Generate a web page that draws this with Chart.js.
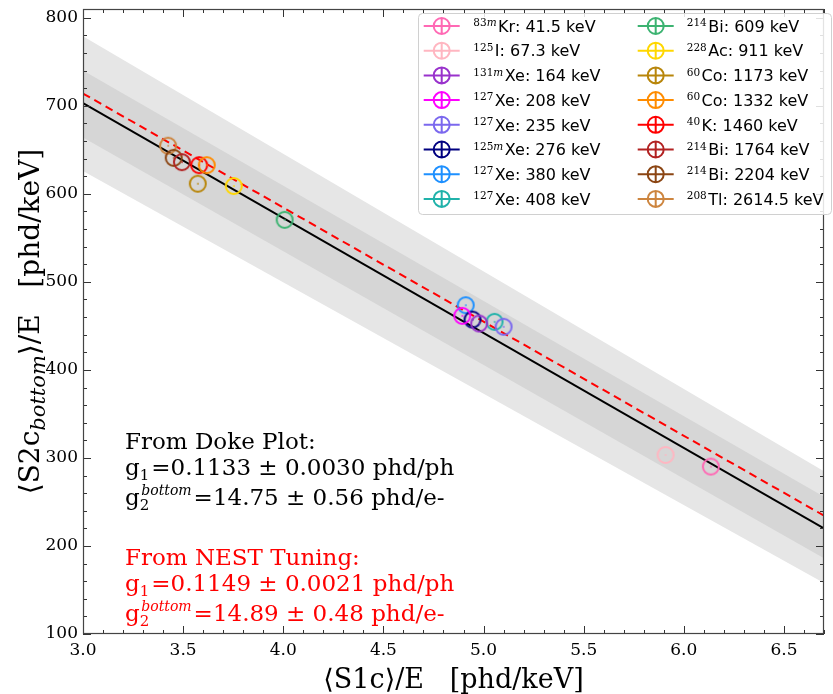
<!DOCTYPE html>
<html><head><meta charset="utf-8">
<script src="https://cdn.jsdelivr.net/npm/chart.js@4/dist/chart.umd.min.js"></script>
<style>html,body{margin:0;background:#fff}canvas{display:block}</style>
</head><body>
<canvas id="doke" width="833" height="694"></canvas>
<script>
/* ===== 資料 ===== */
const LINE_X=[3.0,6.7];
const DOKE_FIT=[703,220], NEST_FIT=[714,234.5];
const BAND1_HI=[740,256], BAND1_LO=[664,186];
const BAND2_HI=[779,285], BAND2_LO=[626,158];
const X_TICKS=[3.0,3.5,4.0,4.5,5.0,5.5,6.0,6.5];
const Y_TICKS=[100,200,300,400,500,600,700,800];

const MASS=['83','125','131','127','127','125','127','127','214','228','60','60','40','214','214','208'];
const META=[1,0,1,0,0,1,0,0,0,0,0,0,0,0,0,0];
const ISO=['Kr','I','Xe','Xe','Xe','Xe','Xe','Xe','Bi','Ac','Co','Co','K','Bi','Bi','Tl'];
const KEV=['41.5','67.3','164','208','235','276','380','408','609','911','1173','1332','1460','1764','2204','2614.5'];
const S1E=[6.135,5.909,4.978,4.894,5.100,4.945,4.911,5.055,4.007,3.753,3.573,3.618,3.580,3.494,3.453,3.425];
const S2E=[290.2,303.4,452.7,461.4,449.0,457.2,473.5,454.6,570.5,608.9,611.5,632.6,632.6,636.0,640.9,654.7];
const COLORS=['#ff69b4','#ffb6c1','#9932cc','#ff00ff','#7b68ee','#000080','#1e90ff','#20b2aa',
              '#3cb371','#ffd700','#b8860b','#ff8c00','#ff0000','#b22222','#8b4513','#cd853f'];

const DOKE_TXT=['From Doke Plot:','0.1133 \u00b1 0.0030 phd/ph','14.75 \u00b1 0.56 phd/e-'];
const NEST_TXT=['From NEST Tuning:','0.1149 \u00b1 0.0021 phd/ph','14.89 \u00b1 0.48 phd/e-'];

const SERIF='"DejaVu Serif", serif', SANS='"DejaVu Sans", sans-serif';

/* ---------- helpers ---------- */
const xy=a=>LINE_X.map((x,i)=>({x,y:a[i]}));
function marker(col){
  const c=document.createElement('canvas'); c.width=c.height=22;
  const g=c.getContext('2d'); g.strokeStyle=col; g.lineWidth=2;
  g.beginPath(); g.arc(11,11,8,0,Math.PI*2); g.stroke();
  g.fillStyle=col; g.fillRect(10.5,10,1.2,2);
  return c;
}
function runs(ctx,x,y,parts){ // 依序畫帶上下標的文字
  parts.forEach(p=>{ctx.font=p.f; ctx.fillText(p.t,x,y+(p.dy||0)); x+=ctx.measureText(p.t).width+(p.gap||0);});
  return x;
}
const runW=(ctx,parts)=>parts.reduce((s,p)=>{ctx.font=p.f;return s+ctx.measureText(p.t).width+(p.gap||0);},0);

/* ---------- plugins ---------- */
const frame={id:'frame',afterDatasetsDraw(c){
  const {ctx,chartArea:{left,right,top,bottom},scales:{x,y}}=c;
  ctx.save(); ctx.strokeStyle='#333'; ctx.lineWidth=1; ctx.beginPath();
  for(let i=30;i<=67;i++){const px=Math.round(x.getPixelForValue(i/10))+.5,l=i%5?4:8;
    ctx.moveTo(px,bottom);ctx.lineTo(px,bottom-l);ctx.moveTo(px,top);ctx.lineTo(px,top+l);}
  for(let v=100;v<=810;v+=20){const py=Math.round(y.getPixelForValue(v))+.5,l=v%100?4:8;
    ctx.moveTo(left,py);ctx.lineTo(left+l,py);ctx.moveTo(right,py);ctx.lineTo(right-l,py);}
  ctx.stroke();
  ctx.strokeStyle='#444'; ctx.lineWidth=1.2; ctx.strokeRect(left+.5,top+.5,right-left-1,bottom-top-1);
  ctx.restore();
}};

const texts={id:'texts',afterDraw(c){
  const {ctx,chartArea:{left,right,top,bottom}}=c;
  ctx.save(); ctx.textBaseline='alphabetic'; ctx.textAlign='left';
  const big='23px '+SERIF, sub='15px '+SERIF, sup='italic 14px '+SERIF;
  const block=(lines,col,b0)=>{
    ctx.fillStyle=col;
    runs(ctx,125,b0,[{t:lines[0],f:big}]);
    runs(ctx,125,b0+26,[{t:'g',f:big},{t:'1',f:sub,dy:5,gap:2},{t:'='+lines[1],f:big}]);
    runs(ctx,125,b0+56,[{t:'g',f:big},{t:'2',f:sub,dy:5,gap:-8},{t:'bottom',f:sup,dy:-10,gap:2},{t:'='+lines[2],f:big}]);
  };
  block(DOKE_TXT,'#000',449); block(NEST_TXT,'#ff0000',565);

  /* 軸標題 */
  ctx.fillStyle='#000';
  const xt=[{t:'\u27e8S1c\u27e9/E   [phd/keV]',f:'27px '+SERIF}];
  runs(ctx,(left+right)/2-runW(ctx,xt)/2,688,xt);
  const yt=[{t:'\u27e8S2c',f:'28px '+SERIF},{t:'bottom',f:'italic 21px '+SERIF,dy:6},{t:'\u27e9/E   [phd/keV]',f:'28px '+SERIF}];
  ctx.translate(39,(top+bottom)/2); ctx.rotate(-Math.PI/2);
  runs(ctx,-runW(ctx,yt)/2,0,yt);
  ctx.restore();
}};

const legendBox={id:'legendBox',afterDraw(c){
  const {ctx}=c; ctx.save();
  ctx.beginPath(); ctx.roundRect(418.5,13.5,413,201,4);
  ctx.fillStyle='rgba(255,255,255,.85)'; ctx.fill(); ctx.strokeStyle='#d0d0d0'; ctx.lineWidth=1; ctx.stroke();
  ctx.textBaseline='alphabetic';
  MASS.forEach((m,i)=>{
    const col=i<8?0:1,row=i%8,cx=col?655.7:441.7,cy=26+row*24.7,tx=col?686.7:473.3;
    ctx.strokeStyle=COLORS[i]; ctx.lineWidth=2; ctx.beginPath();
    ctx.moveTo(cx-18,cy);ctx.lineTo(cx+18,cy);ctx.moveTo(cx,cy-8);ctx.lineTo(cx,cy+8);
    ctx.moveTo(cx+8,cy);ctx.arc(cx,cy,8,0,Math.PI*2); ctx.stroke();
    ctx.fillStyle='#000';
    const parts=[{t:m,f:'10.5px '+SERIF,dy:-5.5}];
    if(META[i]) parts.push({t:'m',f:'italic 10.5px '+SERIF,dy:-5.5});
    parts[parts.length-1].gap=1.5;
    parts.push({t:`${ISO[i]}: ${KEV[i]} keV`,f:'16px '+SANS});
    runs(ctx,tx,cy+5.7,parts);
  });
  ctx.restore();
}};

/* ---------- chart ---------- */
const band=(d,col,fill,order)=>({data:xy(d),showLine:true,borderWidth:0,pointRadius:0,
  backgroundColor:col,fill,order});
const fitLine=(d,col,dash,order)=>({data:xy(d),showLine:true,borderColor:col,borderWidth:2,
  borderDash:dash,pointRadius:0,fill:false,order});

new Chart(document.getElementById('doke'),{
  type:'scatter',
  data:{datasets:[
    band(BAND2_HI,'#e6e6e6','+1',9), band(BAND2_LO,'#e6e6e6',false,9),
    band(BAND1_HI,'#d6d6d6','+1',8), band(BAND1_LO,'#d6d6d6',false,8),
    fitLine(DOKE_FIT,'#000',[],5), fitLine(NEST_FIT,'#ff0000',[8,5],4),
    ...S1E.map((x,i)=>({label:`${MASS[i]}${ISO[i]}`,data:[{x,y:S2E[i]}],
      pointStyle:marker(COLORS[i]),pointRadius:8,order:0}))
  ]},
  options:{
    responsive:false,animation:false,
    layout:{padding:{left:0,top:3,right:1,bottom:0}},
    plugins:{legend:{display:false},tooltip:{enabled:false}},
    scales:{
      x:{type:'linear',min:3,max:6.7,
         grid:{display:false,drawTicks:false},border:{display:false},
         ticks:{padding:6,color:'#000',font:{family:SERIF,size:17},maxRotation:0,callback:v=>v.toFixed(1)},
         afterBuildTicks:s=>{s.ticks=X_TICKS.map(value=>({value}));},
         afterFit:s=>{s.height=60;s.paddingLeft=0;s.paddingRight=0;}},
      y:{type:'linear',min:100,max:810,
         grid:{display:false,drawTicks:false},border:{display:false},
         ticks:{padding:5,color:'#000',font:{family:SERIF,size:17},callback:v=>String(v)},
         afterBuildTicks:s=>{s.ticks=Y_TICKS.map(value=>({value}));},
         afterFit:s=>{s.width=83;s.paddingTop=0;s.paddingBottom=0;}}
    }
  },
  plugins:[frame,texts,legendBox]
});
</script>
</body></html>
